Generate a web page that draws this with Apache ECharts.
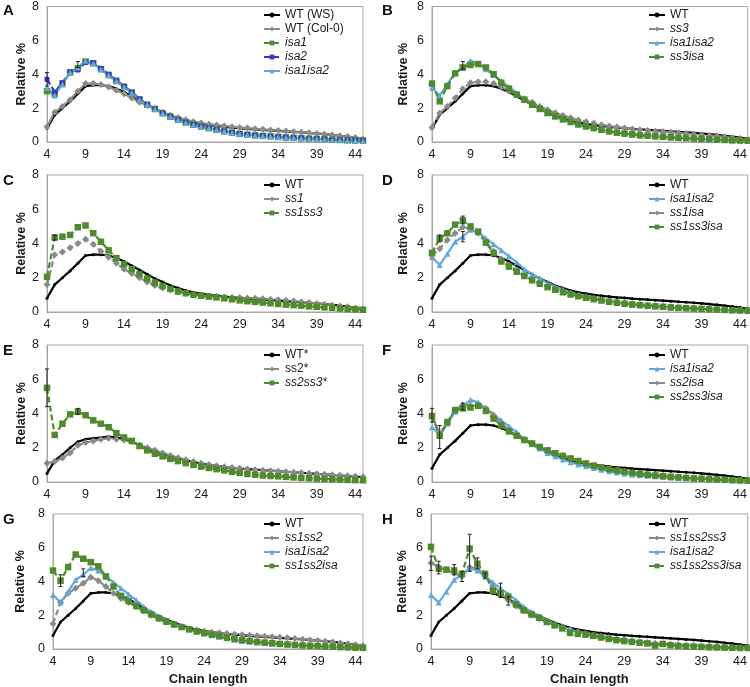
<!DOCTYPE html>
<html><head><meta charset="utf-8">
<script src="https://cdn.jsdelivr.net/npm/echarts/dist/echarts.min.js"></script>
<style>html,body{margin:0;padding:0;background:#fff}#c{width:750px;height:687px}</style>
</head><body><div id="c"></div><script>
const chainLength = ['4','5','6','7','8','9','10','11','12','13','14','15','16','17','18','19','20','21','22','23','24','25','26','27','28','29','30','31','32','33','34','35','36','37','38','39','40','41','42','43','44','45'];
const yTicks = [0, 2, 4, 6, 8];

const wt = [0.8,1.6,2.0,2.4,2.85,3.3,3.35,3.35,3.3,3.15,2.95,2.7,2.45,2.2,1.95,1.75,1.55,1.4,1.25,1.15,1.07,1.0,0.95,0.9,0.85,0.82,0.78,0.75,0.72,0.69,0.66,0.63,0.6,0.57,0.54,0.5,0.46,0.42,0.37,0.32,0.26,0.2];
const wtCol0 = [0.9,1.75,2.1,2.5,3.0,3.45,3.45,3.4,3.25,3.05,2.85,2.6,2.35,2.15,1.95,1.75,1.58,1.45,1.32,1.2,1.12,1.05,1.0,0.95,0.9,0.85,0.82,0.78,0.75,0.71,0.68,0.65,0.61,0.58,0.54,0.5,0.46,0.42,0.37,0.32,0.26,0.18];
const isa1 = [3.0,2.85,3.45,4.1,4.35,4.75,4.65,4.3,3.95,3.6,3.25,2.9,2.5,2.2,1.95,1.7,1.5,1.32,1.15,1.02,0.91,0.81,0.72,0.63,0.55,0.48,0.43,0.39,0.36,0.33,0.3,0.27,0.25,0.22,0.2,0.18,0.16,0.14,0.12,0.1,0.09,0.08];
const isa2 = [3.7,2.95,3.5,4.15,4.25,4.7,4.68,4.35,4.0,3.65,3.3,2.95,2.55,2.22,1.95,1.7,1.5,1.32,1.16,1.03,0.92,0.82,0.73,0.64,0.56,0.49,0.44,0.4,0.36,0.33,0.31,0.28,0.25,0.23,0.2,0.18,0.16,0.14,0.12,0.11,0.1,0.08];
const isa1isa2 = [3.2,2.75,3.4,4.1,4.4,4.8,4.65,4.3,3.95,3.6,3.25,2.9,2.5,2.2,1.95,1.7,1.5,1.32,1.15,1.02,0.92,0.82,0.72,0.63,0.55,0.48,0.43,0.39,0.36,0.33,0.3,0.27,0.25,0.22,0.2,0.18,0.16,0.14,0.12,0.1,0.09,0.08];
const ss3 = [0.85,1.7,2.1,2.6,3.15,3.5,3.55,3.55,3.45,3.25,3.0,2.8,2.55,2.35,2.1,1.9,1.72,1.57,1.43,1.3,1.2,1.1,1.02,0.95,0.88,0.82,0.77,0.72,0.68,0.64,0.6,0.57,0.53,0.5,0.46,0.42,0.39,0.35,0.3,0.25,0.2,0.15];
const ss3isa = [3.45,2.4,3.3,4.05,4.4,4.55,4.6,4.4,4.0,3.5,3.15,2.8,2.5,2.2,1.95,1.72,1.52,1.35,1.2,1.05,0.92,0.82,0.72,0.63,0.55,0.5,0.45,0.4,0.37,0.34,0.31,0.28,0.25,0.23,0.2,0.18,0.16,0.14,0.12,0.1,0.09,0.08];
const ss1 = [1.6,3.35,3.5,3.75,4.0,4.25,3.95,3.55,3.2,2.85,2.5,2.25,2.0,1.75,1.55,1.4,1.28,1.17,1.08,1.02,0.97,0.93,0.9,0.88,0.86,0.84,0.82,0.8,0.78,0.75,0.72,0.68,0.64,0.6,0.55,0.5,0.45,0.4,0.35,0.3,0.24,0.18];
const ss1ss3 = [2.05,4.35,4.4,4.5,4.95,5.05,4.6,4.1,3.6,3.15,2.8,2.5,2.2,1.95,1.72,1.52,1.35,1.2,1.1,1.0,0.95,0.9,0.85,0.8,0.74,0.68,0.63,0.59,0.55,0.51,0.47,0.43,0.4,0.37,0.33,0.3,0.27,0.24,0.2,0.17,0.15,0.13];
const ss1isa = [3.3,3.7,4.2,4.6,4.95,4.85,4.6,4.1,3.55,3.1,2.75,2.45,2.15,1.9,1.7,1.5,1.35,1.2,1.08,0.97,0.88,0.8,0.72,0.65,0.58,0.52,0.47,0.43,0.4,0.36,0.33,0.3,0.27,0.24,0.22,0.19,0.17,0.15,0.13,0.11,0.1,0.08];
const ss1ss3isa = [3.45,4.3,4.6,5.1,5.35,5.0,4.7,4.05,3.45,2.95,2.65,2.35,2.1,1.85,1.65,1.45,1.3,1.15,1.02,0.92,0.83,0.75,0.67,0.6,0.54,0.48,0.44,0.4,0.36,0.33,0.3,0.27,0.24,0.22,0.2,0.18,0.16,0.14,0.12,0.1,0.09,0.08];
const wtStar = [0.5,1.25,1.6,2.0,2.35,2.5,2.55,2.6,2.65,2.6,2.5,2.35,2.15,1.95,1.8,1.65,1.5,1.38,1.27,1.17,1.08,1.0,0.94,0.88,0.83,0.79,0.75,0.72,0.69,0.66,0.63,0.6,0.57,0.54,0.51,0.48,0.45,0.42,0.38,0.35,0.32,0.29];
const ss2Star = [1.1,1.2,1.4,1.7,2.15,2.3,2.4,2.5,2.55,2.5,2.45,2.35,2.15,2.0,1.85,1.7,1.55,1.42,1.3,1.2,1.1,1.02,0.95,0.89,0.84,0.8,0.76,0.72,0.69,0.66,0.63,0.6,0.57,0.54,0.51,0.48,0.45,0.42,0.39,0.36,0.33,0.3];
const ss2ss3Star = [5.5,2.75,3.4,3.95,4.1,3.9,3.6,3.4,3.2,2.85,2.6,2.4,2.1,1.85,1.65,1.5,1.35,1.22,1.1,1.0,0.9,0.82,0.75,0.68,0.6,0.53,0.47,0.42,0.38,0.35,0.33,0.3,0.27,0.24,0.22,0.2,0.18,0.16,0.14,0.12,0.11,0.1];
const ss2isa = [3.9,2.8,3.5,4.2,4.5,4.45,4.45,4.3,3.9,3.45,3.0,2.75,2.5,2.25,2.05,1.85,1.7,1.55,1.4,1.25,1.1,0.98,0.88,0.78,0.7,0.62,0.55,0.5,0.45,0.4,0.36,0.32,0.28,0.25,0.22,0.2,0.17,0.15,0.13,0.11,0.1,0.08];
const ss2ss3isa = [3.85,2.7,3.5,4.2,4.3,4.35,4.45,4.15,3.7,3.3,2.95,2.7,2.45,2.25,2.05,1.85,1.68,1.52,1.37,1.22,1.08,0.95,0.85,0.75,0.67,0.6,0.53,0.47,0.42,0.38,0.34,0.3,0.27,0.24,0.21,0.19,0.17,0.15,0.13,0.11,0.09,0.08];
const ss1ss2 = [1.5,2.75,3.3,3.6,3.9,4.25,4.05,3.7,3.3,3.0,2.75,2.5,2.25,2.0,1.78,1.6,1.45,1.32,1.2,1.12,1.05,1.0,0.96,0.92,0.88,0.85,0.82,0.79,0.76,0.73,0.7,0.66,0.62,0.58,0.54,0.5,0.46,0.41,0.36,0.31,0.25,0.2];
const ss1ss2isa = [4.65,4.05,4.85,5.6,5.35,5.15,4.9,4.3,3.7,3.15,2.85,2.55,2.3,2.05,1.82,1.62,1.45,1.3,1.17,1.05,0.95,0.85,0.77,0.68,0.6,0.53,0.47,0.42,0.38,0.34,0.3,0.27,0.24,0.21,0.19,0.17,0.15,0.13,0.11,0.1,0.08,0.07];
const ss1ss2ss3 = [5.1,4.85,4.7,4.5,4.3,4.85,4.75,4.35,3.8,3.3,2.9,2.55,2.25,2.0,1.8,1.6,1.45,1.3,1.15,1.02,0.92,0.83,0.75,0.68,0.6,0.53,0.47,0.42,0.38,0.34,0.31,0.28,0.25,0.22,0.2,0.18,0.16,0.14,0.12,0.1,0.09,0.08];
const ss1ss2ss3isa = [6.05,4.75,4.7,4.65,4.45,5.95,5.05,4.45,3.45,3.3,3.1,2.65,2.3,2.05,1.85,1.6,1.4,1.22,0.95,0.9,0.85,0.78,0.68,0.6,0.52,0.47,0.42,0.37,0.33,0.2,0.3,0.22,0.18,0.15,0.14,0.12,0.1,0.09,0.08,0.07,0.06,0.06];

// error bars: [chain length, low, high]
const errA = [[4,3.3,4.1],[8,4.4,4.75]];
const errB = [[8,4.3,4.75]];
const errC = [[5,4.2,4.5]];
const errD = [[5,4.1,4.5],[8,5.15,5.6],[8,4.1,4.7]];
const errE = [[4,4.4,6.6],[8,3.95,4.3]];
const errF = [[4,3.5,4.3],[5,1.95,3.3],[8,4.2,4.6]];
const errG = [[5,3.7,4.4],[8,4.3,4.75]];
const errH = [[4,4.65,5.5],[5,4.45,5.2],[7,4.4,5.0],[8,4.0,4.6],[9,4.6,6.8],[10,4.75,5.4],[11,4.2,4.5],[13,3.05,3.9],[14,2.6,3.1]];

const FONT = 'Liberation Sans, Arial, sans-serif';
const STY = {
  wt:   {color:'#000000', symbol:'circle', size:3, dash:'solid', w:2.2},
  gray: {color:'#8a8a8a', symbol:'diamond', size:7, dash:'solid', w:2.2},
  grayD:{color:'#8a8a8a', symbol:'diamond', size:7, dash:[6,3], w:2.2},
  green:{color:'#4f8a2c', symbol:'rect', size:6.5, dash:[6,3], w:2.2},
  blue: {color:'#3535c8', symbol:'rect', size:5, dash:[6,3], w:2.2},
  lblue:{color:'#62a8e0', symbol:'triangle', size:6, dash:'solid', w:2.2}
};

const panels = [
  {letter:'A', g:{left:47, top:5, width:316, height:137}, lg:{left:263, top:9}, err:errA, xName:false, yGap:18,
   s:[['WT (WS)',wt,'wt',false],['WT (Col-0)',wtCol0,'gray',false],['isa1',isa1,'green',true],['isa2',isa2,'blue',true],['isa1isa2',isa1isa2,'lblue',true]]},
  {letter:'B', g:{left:432, top:5, width:316, height:137}, lg:{left:648, top:9}, err:errB, xName:false, yGap:22,
   s:[['WT',wt,'wt',false],['ss3',ss3,'grayD',true],['isa1isa2',isa1isa2,'lblue',true],['ss3isa',ss3isa,'green',true]]},
  {letter:'C', g:{left:47, top:175, width:316, height:137}, lg:{left:263, top:179}, err:errC, xName:false, yGap:18,
   s:[['WT',wt,'wt',false],['ss1',ss1,'grayD',true],['ss1ss3',ss1ss3,'green',true]]},
  {letter:'D', g:{left:432, top:175, width:316, height:137}, lg:{left:648, top:179}, err:errD, xName:false, yGap:22,
   s:[['WT',wt,'wt',false],['isa1isa2',isa1isa2,'lblue',true],['ss1isa',ss1isa,'grayD',true],['ss1ss3isa',ss1ss3isa,'green',true]]},
  {letter:'E', g:{left:47, top:345, width:316, height:137}, lg:{left:263, top:349}, err:errE, xName:false, yGap:18,
   s:[['WT*',wtStar,'wt',false],['ss2*',ss2Star,'grayD',false],['ss2ss3*',ss2ss3Star,'green',true]]},
  {letter:'F', g:{left:432, top:345, width:316, height:137}, lg:{left:648, top:349}, err:errF, xName:false, yGap:22,
   s:[['WT',wt,'wt',false],['isa1isa2',isa1isa2,'lblue',true],['ss2isa',ss2isa,'gray',true],['ss2ss3isa',ss2ss3isa,'green',true]]},
  {letter:'G', g:{left:53, top:514, width:310, height:136}, lg:{left:263, top:518}, err:errG, xName:true, yGap:26,
   s:[['WT',wt,'wt',false],['ss1ss2',ss1ss2,'grayD',true],['isa1isa2',isa1isa2,'lblue',true],['ss1ss2isa',ss1ss2isa,'green',true]]},
  {letter:'H', g:{left:431, top:514, width:317, height:136}, lg:{left:648, top:518}, err:errH, xName:true, yGap:22,
   s:[['WT',wt,'wt',false],['ss1ss2ss3',ss1ss2ss3,'gray',true],['isa1isa2',isa1isa2,'lblue',true],['ss1ss2ss3isa',ss1ss2ss3isa,'green',true]]}
];

const grid = [], xAxis = [], yAxis = [], series = [], legend = [], graphic = [];
panels.forEach((p, i) => {
  grid.push(Object.assign({show:true, borderColor:'#a6a6a6', borderWidth:1, backgroundColor:'transparent'}, p.g));
  xAxis.push({type:'category', gridIndex:i, data:chainLength, boundaryGap:false,
    axisLine:{lineStyle:{color:'#a6a6a6', width:1}}, axisTick:{show:false},
    axisLabel:{interval:4, color:'#1a1a1a', fontSize:12.5, fontFamily:FONT, margin:6},
    name: p.xName ? 'Chain length' : '', nameLocation:'middle', nameGap:24,
    nameTextStyle:{fontWeight:'bold', fontSize:13, color:'#1a1a1a', fontFamily:FONT}});
  yAxis.push({type:'value', gridIndex:i, min:yTicks[0], max:yTicks[yTicks.length-1], interval:2,
    axisLine:{show:true, lineStyle:{color:'#a6a6a6', width:1}}, axisTick:{show:false}, splitLine:{show:false},
    axisLabel:{color:'#1a1a1a', fontSize:12.5, fontFamily:FONT, margin:8},
    name:'Relative %', nameLocation:'middle', nameGap:p.yGap,
    nameTextStyle:{fontWeight:'bold', fontSize:12.5, color:'#1a1a1a', fontFamily:FONT}});
  const ldata = [];
  p.s.forEach(([name, data, sk, ital]) => {
    const st = STY[sk];
    series.push({type:'line', name, xAxisIndex:i, yAxisIndex:i, data, showAllSymbol:true,
      symbol:st.symbol, symbolSize:st.size, animation:false,
      lineStyle:{color:st.color, width:st.w, type:st.dash}, itemStyle:{color:st.color}});
    ldata.push({name, textStyle:{fontStyle: ital ? 'italic' : 'normal'}});
  });
  legend.push({orient:'vertical', left:p.lg.left, top:p.lg.top, padding:0, itemGap:2, itemWidth:16, itemHeight:6,
    textStyle:{fontSize:12, color:'#1a1a1a', fontFamily:FONT}, data:ldata, selectedMode:false});
  series.push({type:'custom', xAxisIndex:i, yAxisIndex:i, animation:false, silent:true, z:10,
    data: p.err.map(e => [String(e[0]), e[1], e[2]]),
    renderItem: (params, api) => {
      const lo = api.coord([api.value(0), api.value(1)]);
      const hi = api.coord([api.value(0), api.value(2)]);
      const c = 2;
      const st = {stroke:'#222', lineWidth:1};
      return {type:'group', children:[
        {type:'line', shape:{x1:lo[0], y1:lo[1], x2:hi[0], y2:hi[1]}, style:st},
        {type:'line', shape:{x1:lo[0]-c, y1:lo[1], x2:lo[0]+c, y2:lo[1]}, style:st},
        {type:'line', shape:{x1:hi[0]-c, y1:hi[1], x2:hi[0]+c, y2:hi[1]}, style:st}
      ]};
    }});
  graphic.push({type:'text', left: p.g.left < 200 ? 3 : 382, top: p.g.top - 2,
    style:{text:p.letter, font:'bold 15px ' + FONT, fill:'#111'}});
});

const chart = echarts.init(document.getElementById('c'), null, {renderer:'canvas'});
chart.setOption({animation:false, backgroundColor:'#fff', grid, xAxis, yAxis, series, legend, graphic});
</script></body></html>
